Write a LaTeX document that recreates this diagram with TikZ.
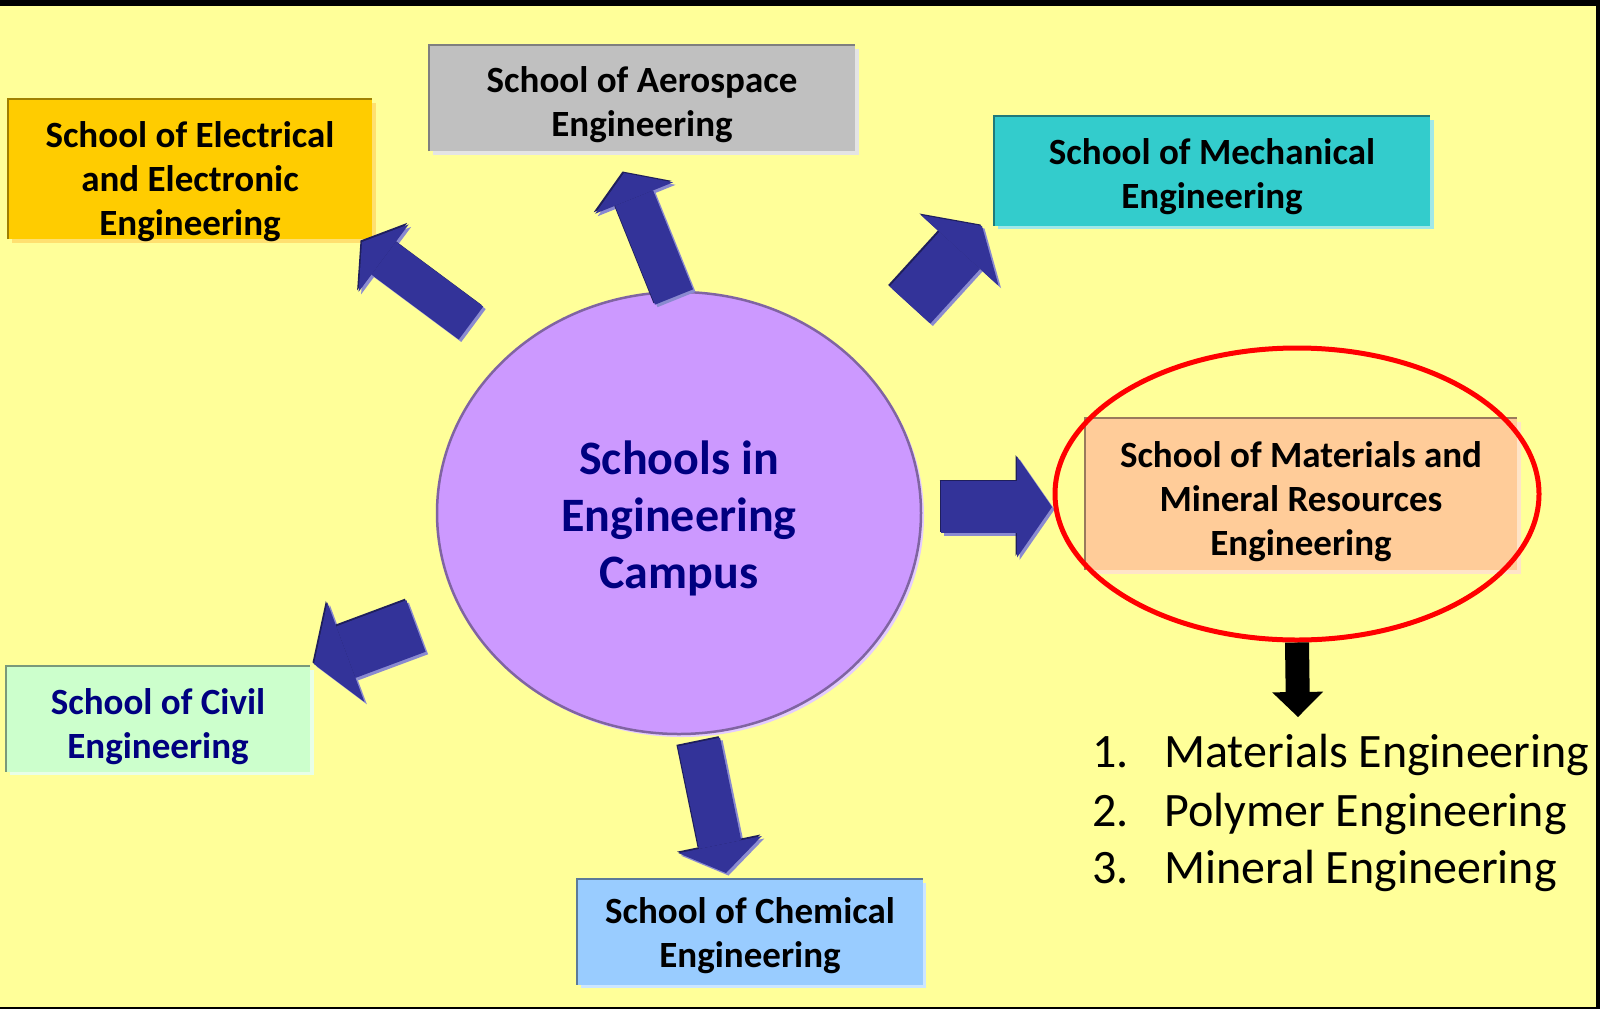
\documentclass[tikz,border=0pt]{standalone}
\usepackage{fontspec}
\setmainfont{Carlito}
\usetikzlibrary{shapes.geometric,shadows,arrows.meta}

\definecolor{bgyellow}{HTML}{FFFF99}
\definecolor{elecfill}{HTML}{FFCC00}
\definecolor{elecshade}{HTML}{FFE070}
\definecolor{elecedge}{HTML}{A08000}
\definecolor{aerofill}{HTML}{C0C0C0}
\definecolor{aeroshade}{HTML}{E4E4E4}
\definecolor{aeroedge}{HTML}{7F7F7F}
\definecolor{mechfill}{HTML}{33CCCC}
\definecolor{mechshade}{HTML}{A0E8E8}
\definecolor{mechedge}{HTML}{1F7A7A}
\definecolor{matfill}{HTML}{FFCC99}
\definecolor{matshade}{HTML}{FFE4C8}
\definecolor{matedge}{HTML}{9A7A5C}
\definecolor{civilfill}{HTML}{CCFFCC}
\definecolor{civilshade}{HTML}{E8FFE8}
\definecolor{civiledge}{HTML}{7A997A}
\definecolor{chemfill}{HTML}{99CCFF}
\definecolor{chemshade}{HTML}{CCE6FF}
\definecolor{chemedge}{HTML}{5C7A99}
\definecolor{campusfill}{HTML}{CC99FF}
\definecolor{campusedge}{HTML}{8064A2}
\definecolor{campusshade}{HTML}{E4CCFF}
\definecolor{navy}{HTML}{000080}
\definecolor{arrowblue}{HTML}{333399}
\definecolor{arrowdark}{HTML}{1F1F5C}
\definecolor{arrowlit}{HTML}{8A8AD0}

\newcommand\boxfont{\fontsize{37}{44}\selectfont\bfseries}
\newcommand\campusfont{\fontsize{48}{57}\selectfont\bfseries}
\newcommand\listfont{\fontsize{48}{57}\selectfont}
% box text, lowered by #1 inside its box
\newcommand\boxtext[2]{\raisebox{-#1}[0pt][0pt]{\begin{tabular}{@{}c@{}}#2\end{tabular}}}

\tikzset{
  school/.style 2 args={rectangle, inner sep=0pt, font=\boxfont,
    fill=#1, drop shadow={shadow xshift=3.5pt, shadow yshift=-3.5pt, opacity=1, fill=#2}},
  listtext/.style={anchor=base west, inner sep=0pt, font=\listfont}
}

\begin{document}
\begin{tikzpicture}[x=1pt,y=-1pt]

\useasboundingbox (0,0) rectangle (1600,1009);
\fill[bgyellow] (0,0) rectangle (1600,1009);
% frame
\fill[black] (0,0) rectangle (1600,6);
\fill[black] (1596,0) rectangle (1600,1009);
\fill[black] (0,1007) rectangle (1600,1009);

% the centre
\node[ellipse, draw=campusedge, line width=2.5pt, fill=campusfill,
      minimum width=484pt, minimum height=442pt, inner sep=0pt,
      font=\campusfont, text=navy,
      drop shadow={shadow xshift=3pt, shadow yshift=-3pt, opacity=1, fill=campusshade}]
  (campus) at (679,513) {\boxtext{13pt}{Schools in\\Engineering\\Campus}};

% the schools
\node[school={elecfill}{elecshade}, minimum width=364pt, minimum height=140pt]
  (elec) at (190,169) {\boxtext{19.5pt}{School of Electrical\\and Electronic\\Engineering}};
\node[school={aerofill}{aeroshade}, minimum width=426pt, minimum height=106pt]
  (aero) at (642,98) {\boxtext{13.5pt}{School of Aerospace\\Engineering}};
\node[school={mechfill}{mechshade}, minimum width=436pt, minimum height=109pt]
  (mech) at (1212,171) {\boxtext{13pt}{School of Mechanical\\Engineering}};
\node[school={matfill}{matshade}, minimum width=432pt, minimum height=152pt]
  (mat) at (1301,494) {\boxtext{15pt}{School of Materials and\\Mineral Resources\\Engineering}};
\node[school={civilfill}{civilshade}, minimum width=304pt, minimum height=105pt, text=navy]
  (civil) at (158,719) {\boxtext{15pt}{School of Civil\\Engineering}};
\node[school={chemfill}{chemshade}, minimum width=345pt, minimum height=105pt]
  (chem) at (750,932) {\boxtext{11pt}{School of Chemical\\Engineering}};

\foreach \n in {elec,aero,mech,mat,civil,chem}{
  \draw[\n edge, line width=2pt] (\n.south west) -- (\n.north west) -- (\n.north east);
}

% block arrows out of the centre
\coordinate (elec-from) at (471,323);  \coordinate (elec-to) at (362,242);
\coordinate (aero-from) at (674,297);  \coordinate (aero-to) at (624,173);
\coordinate (mech-from) at (910,305);  \coordinate (mech-to) at (982,226);
\coordinate (mat-from) at (941,507);   \coordinate (mat-to) at (1052,507);
\coordinate (civil-from) at (416,626); \coordinate (civil-to) at (314,664);
\coordinate (chem-from) at (699,742);  \coordinate (chem-to) at (726,873);

\foreach \n/\w/\l/\hw in {elec/41/27/84, aero/41/27/84, mech/55/33/105,
                          mat/52/35/101, civil/55/34/106, chem/43/29/85}{
  \draw[arrowlit, line width=\w pt, -{Triangle[length=\l pt, width=\hw pt, line width=0pt]}]
    ([xshift=2.5pt,yshift=-2.5pt]\n-from) -- ([xshift=2.5pt,yshift=-2.5pt]\n-to);
  \draw[arrowdark, line width=\w pt, -{Triangle[length=\l pt, width=\hw pt, line width=0pt]}]
    ([xshift=-1.5pt,yshift=1.5pt]\n-from) -- ([xshift=-1.5pt,yshift=1.5pt]\n-to);
  \draw[arrowblue, line width=\w pt, -{Triangle[length=\l pt, width=\hw pt, line width=0pt]}]
    (\n-from) -- (\n-to);
}

% the highlighted school and its programmes
\node[ellipse, draw=red, line width=5pt, minimum width=484pt, minimum height=292pt,
      inner sep=0pt] (ring) at (1297,494) {};
\coordinate (prog-to) at (1298,717);
\draw[black, line width=24pt, -{Triangle[length=25pt, width=51pt, line width=0pt]}]
  (ring.south) -- (prog-to);

\foreach \i/\t/\y in {1/Materials Engineering/767, 2/Polymer Engineering/826,
                      3/Mineral Engineering/883}{
  \node[listtext] (num\i) at (1092,\y) {\i.};
  \node[listtext] (prog\i) at (1164,\y) {\t};
}

\end{tikzpicture}
\end{document}
